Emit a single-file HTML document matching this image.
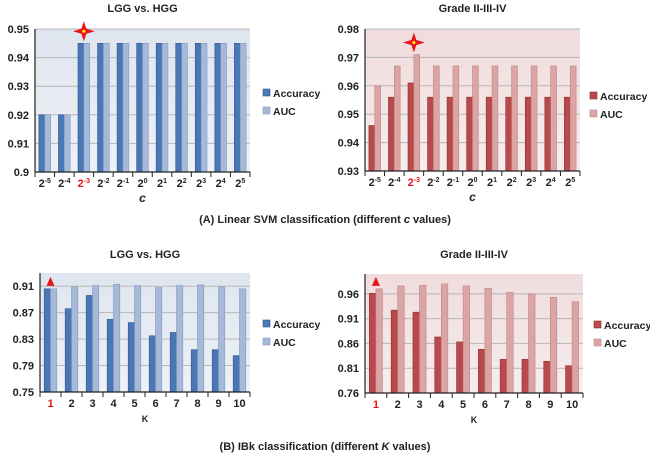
<!DOCTYPE html>
<html><head><meta charset="utf-8">
<style>
body{margin:0;background:#fff;width:650px;height:454px;overflow:hidden;font-family:"Liberation Sans",sans-serif}
svg text{font-family:"Liberation Sans",sans-serif}
</style></head>
<body>
<svg id="fig" width="650" height="454" xmlns="http://www.w3.org/2000/svg">
<defs>
<linearGradient id="bgBlue" x1="0" y1="0" x2="0" y2="1"><stop offset="0" stop-color="#dfe5ef"/><stop offset="1" stop-color="#eef1f6"/></linearGradient>
<linearGradient id="bgRed" x1="0" y1="0" x2="0" y2="1"><stop offset="0" stop-color="#f0dcdc"/><stop offset="1" stop-color="#f7eded"/></linearGradient>
</defs>
<text x="325" y="223" font-size="11" font-weight="bold" text-anchor="middle" fill="#222">(A) Linear SVM classification (different <tspan font-style="italic">c</tspan> values)</text>
<text x="325" y="450" font-size="11" font-weight="bold" text-anchor="middle" fill="#222">(B) IBk classification (different <tspan font-style="italic">K</tspan> values)</text>
</svg>
<script>
const cLabels=["-5","-4","-3","-2","-1","0","1","2","3","4","5"];
const kLabels=["1","2","3","4","5","6","7","8","9","10"];
const aLeftAcc=[0.92,0.92,0.945,0.945,0.945,0.945,0.945,0.945,0.945,0.945,0.945];
const aLeftAuc=[0.92,0.92,0.945,0.945,0.945,0.945,0.945,0.945,0.945,0.945,0.945];
const aRightAcc=[0.946,0.956,0.961,0.956,0.956,0.956,0.956,0.956,0.956,0.956,0.956];
const aRightAuc=[0.960,0.967,0.971,0.967,0.967,0.967,0.967,0.967,0.967,0.967,0.967];
const bLeftAcc=[0.906,0.876,0.896,0.860,0.855,0.835,0.840,0.814,0.814,0.805];
const bLeftAuc=[0.906,0.909,0.911,0.913,0.911,0.908,0.911,0.912,0.909,0.906];
const bRightAcc=[0.961,0.927,0.923,0.873,0.863,0.848,0.828,0.828,0.824,0.815];
const bRightAuc=[0.970,0.976,0.977,0.980,0.976,0.971,0.963,0.960,0.953,0.944];
const aLeftTicks=[0.9,0.91,0.92,0.93,0.94,0.95];
const aRightTicks=[0.93,0.94,0.95,0.96,0.97,0.98];
const bLeftTicks=[0.75,0.79,0.83,0.87,0.91];
const bRightTicks=[0.76,0.81,0.86,0.91,0.96];
const NS="http://www.w3.org/2000/svg";
const svg=document.getElementById('fig');
function mk(tag,attrs,parent){const e=document.createElementNS(NS,tag);for(const k in attrs)e.setAttribute(k,attrs[k]);(parent||svg).appendChild(e);return e;}
function chart(o){
  const g=mk('g',{});
  
  
  const y=v=>o.y1-(v-o.vmin)/(o.vmax-o.vmin)*(o.y1-o.y0);
  const bg=mk('rect',{x:o.x0,y:o.y0,width:o.x1-o.x0,height:o.y1-o.y0,fill:o.bg},g);
  
  
  o.ticks.forEach(t=>{
    mk('line',{x1:o.x0,x2:o.x1,y1:y(t),y2:y(t),stroke:'#b8b8b8','stroke-width':1},g);
    const tl=mk('text',{x:o.x0-6,y:y(t)+4,'font-size':11,'font-weight':'bold','text-anchor':'end',fill:'#222'},g);
    tl.textContent=o.fmt(t);
    
    
  });
  const n=o.acc.length, gw=(o.x1-o.x0)/n, bw=gw*0.3;
  for(let i=0;i<n;i++){
    const cx=o.x0+gw*(i+0.5);
    const a=mk('rect',{x:cx-bw,y:y(o.acc[i]),width:bw,height:o.y1-y(o.acc[i]),fill:o.c1,stroke:o.e1,'stroke-width':0.6},g);
    
    
    const b=mk('rect',{x:cx,y:y(o.auc[i]),width:bw,height:o.y1-y(o.auc[i]),fill:o.c2,stroke:o.e2,'stroke-width':0.6},g);
    
    
    mk('line',{x1:o.x0+gw*i,x2:o.x0+gw*i,y1:o.y1,y2:o.y1+5,stroke:'#222'},g);
    const lab=mk('text',{x:cx,y:o.y1+15,'font-size':11,'font-weight':'bold','text-anchor':'middle',fill:i===o.hi?'#e8141b':'#222'},g);
    if(o.pow){lab.textContent='2';const s=mk('tspan',{dy:-4,'font-size':7},lab);s.textContent=o.labels[i];}
    else lab.textContent=o.labels[i];
    
    
    if(i===o.hi){
      const my=Math.min(y(o.acc[i]),y(o.auc[i]));
      if(o.star){
        const sx=cx, sy=my-12;
        mk('path',{d:`M${sx} ${sy-10}L${sx+2.5} ${sy-2.5}L${sx+11} ${sy}L${sx+2.5} ${sy+2.5}L${sx} ${sy+10}L${sx-2.5} ${sy+2.5}L${sx-11} ${sy}L${sx-2.5} ${sy-2.5}Z`,fill:'#e8141b'},g);
        mk('circle',{cx:sx,cy:sy,r:1.6,fill:'#ffe600'},g);
      } else {
        mk('path',{d:`M${cx-4} ${my-3}L${cx+4} ${my-3}L${cx} ${my-12}Z`,fill:'#e8141b'},g);
      }
    }
  }
  mk('line',{x1:o.x1,x2:o.x1,y1:o.y1,y2:o.y1+5,stroke:'#222'},g);
  mk('line',{x1:o.x0,x2:o.x0,y1:o.y0,y2:o.y1,stroke:'#222','stroke-width':1.2},g);
  mk('line',{x1:o.x0,x2:o.x1,y1:o.y1,y2:o.y1,stroke:'#222','stroke-width':1.2},g);
  const t=mk('text',{x:(o.x0+o.x1)/2,y:o.ty,'font-size':11,'font-weight':'bold','text-anchor':'middle',fill:'#222'},g);
  t.textContent=o.title;
  
  
  const ax=mk('text',{x:(o.x0+o.x1)/2,y:o.y1+30,'font-size':o.pow?12:9,'font-weight':'bold','font-style':o.pow?'italic':'normal','text-anchor':'middle',fill:'#222'},g);
  ax.textContent=o.pow?'c':'K';
  
  
  [['Accuracy',o.c1,o.e1,o.ly],['AUC',o.c2,o.e2,o.ly+18]].forEach(([nm,c,e,ly])=>{
    const sw=mk('rect',{x:o.lx,y:ly-5,width:7,height:7,fill:c,stroke:e,'stroke-width':0.6},g);
    
    
    const lt=mk('text',{x:o.lx+10,y:ly+3,'font-size':10.5,'font-weight':'bold',fill:'#222'},g);
    lt.textContent=nm;
    
    
  });
}
const blue={c1:'#4a78b6',e1:'#30588e',c2:'#a7b9d9',e2:'#8399c0',bg:'url(#bgBlue)'};
const red={c1:'#b9494a',e1:'#8c3030',c2:'#dba5a5',e2:'#c08585',bg:'url(#bgRed)'};
chart(Object.assign({name:'chart-a-lgg-hgg',x0:35,x1:250,y0:29,y1:172,vmin:0.9,vmax:0.95,ticks:aLeftTicks,fmt:v=>v===0.9?'0.9':v.toFixed(2),acc:aLeftAcc,auc:aLeftAuc,labels:cLabels,pow:true,hi:2,star:true,title:'LGG vs. HGG',ty:12,lx:263,ly:94},blue));
chart(Object.assign({name:'chart-a-grade',x0:365,x1:580,y0:29,y1:171,vmin:0.93,vmax:0.98,ticks:aRightTicks,fmt:v=>v.toFixed(2),acc:aRightAcc,auc:aRightAuc,labels:cLabels,pow:true,hi:2,star:true,title:'Grade II-III-IV',ty:12,lx:590,ly:97},red));
chart(Object.assign({name:'chart-b-lgg-hgg',x0:40,x1:250,y0:273,y1:392,vmin:0.75,vmax:0.93,ticks:bLeftTicks,fmt:v=>v.toFixed(2),acc:bLeftAcc,auc:bLeftAuc,labels:kLabels,pow:false,hi:0,star:false,title:'LGG vs. HGG',ty:258,lx:263,ly:325},blue));
chart(Object.assign({name:'chart-b-grade',x0:365,x1:583,y0:274,y1:393,vmin:0.76,vmax:1.0,ticks:bRightTicks,fmt:v=>v.toFixed(2),acc:bRightAcc,auc:bRightAuc,labels:kLabels,pow:false,hi:0,star:false,title:'Grade II-III-IV',ty:258,lx:594,ly:326},red));
</script>
</body></html>
